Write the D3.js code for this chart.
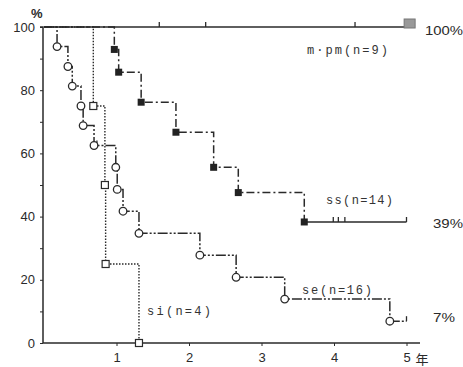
<!DOCTYPE html>
<html>
<head>
<meta charset="utf-8">
<script src="https://cdn.jsdelivr.net/npm/d3@7"></script>
<style>
  body { margin: 0; background: #fff; }
  svg { display: block; }
</style>
</head>
<body>
<div id="chart"></div>
<script>
const width = 463;
const height = 367;

// years after operation / survival rate (%)
const seTimes = [0.18, 0.33, 0.39, 0.51, 0.54, 0.69, 0.99, 1.01, 1.09, 1.31, 2.15, 2.65, 3.32, 4.77];
const seSurv = [93.8, 87.5, 81.3, 75, 68.8, 62.5, 55.6, 48.6, 41.7, 34.7, 27.8, 20.8, 13.9, 6.9];
const seCensor = [0.73, 5];

const ssTimes = [0.97, 1.03, 1.34, 1.82, 2.34, 2.68, 3.59];
const ssSurv = [92.9, 85.7, 76.2, 66.7, 55.6, 47.6, 38.3];
const ssCensor = [3.99, 4.06, 4.15, 5];

const siTimes = [0.68, 0.84, 0.85, 1.31];
const siSurv = [75, 50, 25, 0];

const mpmCensor = [1.59, 2.23, 4.29];
const mpmEnd = 5.05;

const yTicks = [0, 20, 40, 60, 80, 100];
const yMinor = [10, 30, 50, 70, 90];
const xTicks = [1, 2, 3, 4, 5];
const xUnit = "年";

const names = ["m·pm(n=9)", "ss(n=14)", "se(n=16)", "si(n=4)"];
const finals = ["100%", "39%", "7%"];

const ink = "#2a2a2a";

const svg = d3.select("#chart").append("svg")
  .attr("width", width)
  .attr("height", height);

const x = d3.scaleLinear().domain([0, 5]).range([44, 406.5]);
const y = d3.scaleLinear().domain([0, 100]).range([343, 27]);

// axes
svg.append("g")
  .attr("transform", "translate(43,0)")
  .call(d3.axisLeft(y).tickValues(yTicks).tickSize(3).tickPadding(5))
  .call(g => g.select(".domain").attr("stroke", ink).attr("stroke-width", 1.5).attr("d", `M-3,${y(100)}H0V${y(0)}`))
  .call(g => g.selectAll(".tick line").attr("stroke", ink))
  .call(g => g.selectAll(".tick text").attr("fill", ink).attr("font-size", 13)
    .attr("font-family", "Liberation Sans, Arial, sans-serif"));

svg.append("g")
  .attr("transform", "translate(43,0)")
  .call(d3.axisLeft(y).tickValues(yMinor).tickSize(3).tickFormat(""))
  .call(g => g.select(".domain").remove())
  .call(g => g.selectAll(".tick line").attr("stroke", ink));

svg.append("g")
  .attr("transform", `translate(0,${y(0)})`)
  .call(d3.axisBottom(x).tickValues(xTicks).tickSize(3).tickPadding(7).tickFormat(d3.format("d")))
  .call(g => g.select(".domain").attr("stroke", ink).attr("stroke-width", 1.5).attr("d", "M43,0H420"))
  .call(g => g.selectAll(".tick line").attr("stroke", ink))
  .call(g => g.selectAll(".tick text").attr("fill", ink).attr("font-size", 13)
    .attr("font-family", "Liberation Sans, Arial, sans-serif"));

svg.append("text")
  .attr("x", x(5) + 9).attr("y", y(0) + 21)
  .attr("font-size", 13).attr("fill", ink)
  .attr("font-family", "Noto Sans CJK JP, sans-serif")
  .text(xUnit);

svg.append("text")
  .attr("x", 31).attr("y", 18)
  .attr("font-size", 13).attr("font-weight", "bold").attr("fill", ink)
  .attr("font-family", "Liberation Sans, Arial, sans-serif")
  .text("%");

const step = d3.line()
  .x(d => x(d[0]))
  .y(d => y(d[1]))
  .curve(d3.curveStepAfter);

function curvePoints(times, surv, end) {
  const pts = [[0, 100]].concat(times.map((t, i) => [t, surv[i]]));
  if (end != null) pts.push([end, surv[surv.length - 1]]);
  return pts;
}

function censorTicks(times, level) {
  svg.append("g").selectAll("line")
    .data(times)
    .join("line")
      .attr("x1", d => x(d)).attr("x2", d => x(d))
      .attr("y1", y(level)).attr("y2", y(level) - 5)
      .attr("stroke", ink).attr("stroke-width", 1.3);
}

// m·pm
svg.append("path")
  .attr("d", step([[0, 100], [5, 100]]))
  .attr("fill", "none").attr("stroke", ink).attr("stroke-width", 1.5);
censorTicks(mpmCensor, 100);
svg.append("rect")
  .attr("x", x(mpmEnd) - 6).attr("y", y(100) - 8)
  .attr("width", 11).attr("height", 9)
  .attr("fill", "#999").attr("stroke", "#777");

// si
svg.append("path")
  .attr("d", step(curvePoints(siTimes, siSurv)))
  .attr("fill", "none").attr("stroke", ink).attr("stroke-width", 1.4)
  .attr("stroke-dasharray", "1.5,1.5");
svg.append("g").selectAll("rect")
  .data(siTimes.map((t, i) => [t, siSurv[i]]))
  .join("rect")
    .attr("x", d => x(d[0]) - 3.5).attr("y", d => y(d[1]) - 3.5)
    .attr("width", 7).attr("height", 7)
    .attr("fill", "#fff").attr("stroke", ink).attr("stroke-width", 1.2);

// se
svg.append("path")
  .attr("d", step(curvePoints(seTimes, seSurv, 5)))
  .attr("fill", "none").attr("stroke", ink).attr("stroke-width", 1.5)
  .attr("stroke-dasharray", "10,2,2,2,2,2");
censorTicks(seCensor.slice(0, 1), 62.5);
censorTicks(seCensor.slice(1), seSurv[seSurv.length - 1]);
svg.append("g").selectAll("circle")
  .data(seTimes.map((t, i) => [t, seSurv[i]]))
  .join("circle")
    .attr("cx", d => x(d[0])).attr("cy", d => y(d[1]))
    .attr("r", 3.8)
    .attr("fill", "#fff").attr("stroke", ink).attr("stroke-width", 1.3);

// ss
const ssPts = curvePoints(ssTimes, ssSurv, 5);
svg.append("path")
  .attr("d", step(ssPts.slice(0, -1)))
  .attr("fill", "none").attr("stroke", ink).attr("stroke-width", 1.5)
  .attr("stroke-dasharray", "8,3,2,3");
svg.append("path")
  .attr("d", step(ssPts.slice(-2)))
  .attr("fill", "none").attr("stroke", ink).attr("stroke-width", 1.5);
censorTicks(ssCensor, ssSurv[ssSurv.length - 1]);
svg.append("g").selectAll("rect")
  .data(ssTimes.map((t, i) => [t, ssSurv[i]]))
  .join("rect")
    .attr("x", d => x(d[0]) - 3.5).attr("y", d => y(d[1]) - 3.5)
    .attr("width", 7).attr("height", 7)
    .attr("fill", "#222");

// group labels
const labelPos = [[307, 54, 81], [326, 204, 67], [302, 294, 70], [147, 315, 64]];
svg.append("g").selectAll("text")
  .data(names)
  .join("text")
    .attr("x", (d, i) => labelPos[i][0]).attr("y", (d, i) => labelPos[i][1])
    .attr("textLength", (d, i) => labelPos[i][2]).attr("lengthAdjust", "spacing")
    .attr("font-size", 12).attr("fill", "#333")
    .attr("font-family", "Liberation Mono, DejaVu Sans Mono, monospace")
    .text(d => d);

// final rates
const finalPos = [[425, 35, 38], [433, 228, 30], [433, 322, 22]];
svg.append("g").selectAll("text")
  .data(finals)
  .join("text")
    .attr("x", (d, i) => finalPos[i][0]).attr("y", (d, i) => finalPos[i][1])
    .attr("textLength", (d, i) => finalPos[i][2]).attr("lengthAdjust", "spacingAndGlyphs")
    .attr("font-size", 12.5).attr("fill", ink)
    .attr("font-family", "Liberation Sans, Arial, sans-serif")
    .text(d => d);
</script>
</body>
</html>
